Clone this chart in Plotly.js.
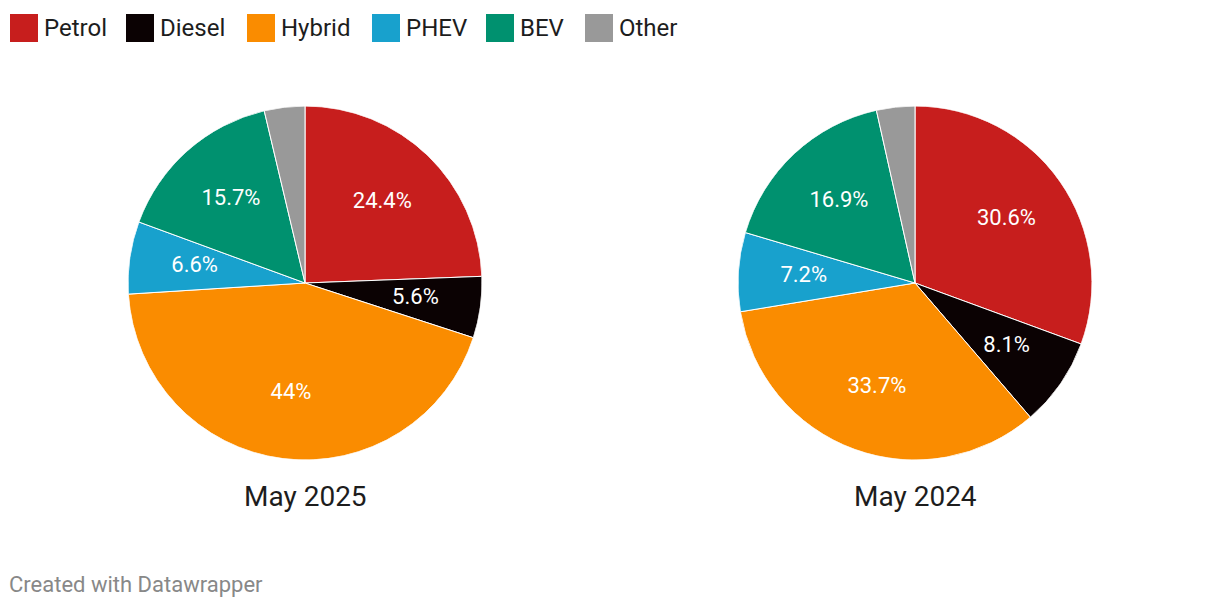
<!DOCTYPE html>
<html>
<head>
<meta charset="utf-8">
<script src="https://cdn.plot.ly/plotly-3.0.1.min.js"></script>
<style>
  html, body { margin: 0; padding: 0; background: #ffffff; }
  #chart { width: 1220px; height: 608px; }
</style>
</head>
<body>
<div id="chart"></div>
<script>
const categories = ["Petrol", "Diesel", "Hybrid", "PHEV", "BEV", "Other"];
const colors = ["#c71e1d", "#0b0203", "#fa8c00", "#18a1cd", "#00916f", "#999999"];
const panelTitles = ["May 2025", "May 2024"];
const valuesMay2025 = [24.4, 5.6, 44.0, 6.6, 15.7, 3.7];
const valuesMay2024 = [30.6, 8.1, 33.7, 7.2, 16.9, 3.5];
const labelsMay2025 = ["24.4%", "5.6%", "44%", "6.6%", "15.7%", ""];
const labelsMay2024 = ["30.6%", "8.1%", "33.7%", "7.2%", "16.9%", ""];

const W = 1220, H = 608;
const R = 177, CY = 283;
const centersX = [305, 915];
const LABEL_R = 0.63;

function domainFor(cx) {
  return {
    x: [(cx - R) / W, (cx + R) / W],
    y: [1 - (CY + R) / H, 1 - (CY - R) / H]
  };
}

function angles(values) {
  const total = values.reduce((a, b) => a + b, 0);
  let cum = 0;
  const mid = [], width = [];
  values.forEach(v => {
    mid.push((cum + v / 2) / total * 360);
    width.push(v / total * 360);
    cum += v;
  });
  return { mid, width };
}

function sliceTrace(values, polarId) {
  const a = angles(values);
  return {
    type: "barpolar",
    subplot: polarId,
    r: values.map(() => 1),
    theta: a.mid,
    width: a.width,
    customdata: values,
    text: categories,
    hovertemplate: "%{text}: %{customdata}%<extra></extra>",
    marker: { color: colors, line: { color: "#ffffff", width: 1 } },
    showlegend: false
  };
}

function labelTrace(values, texts, polarId) {
  const a = angles(values);
  return {
    type: "scatterpolar",
    subplot: polarId,
    mode: "text",
    r: values.map(() => LABEL_R),
    theta: a.mid,
    text: texts,
    textposition: "middle center",
    textfont: { family: "Roboto, sans-serif", size: 22, color: "#ffffff" },
    hoverinfo: "skip",
    showlegend: false
  };
}

const data = [
  sliceTrace(valuesMay2025, "polar"),
  sliceTrace(valuesMay2024, "polar2"),
  labelTrace(valuesMay2025, labelsMay2025, "polar"),
  labelTrace(valuesMay2024, labelsMay2024, "polar2")
];

function polarLayout(cx) {
  return {
    domain: domainFor(cx),
    bgcolor: "rgba(0,0,0,0)",
    radialaxis: { range: [0, 1], visible: false, showgrid: false, showline: false, showticklabels: false },
    angularaxis: { direction: "clockwise", rotation: 90, visible: false, showgrid: false, showline: false, showticklabels: false },
    hole: 0
  };
}

const shapes = [];
const annotations = [];
const legendX = [10, 126, 247, 372, 486, 585];
categories.forEach((c, i) => {
  shapes.push({
    type: "rect", xref: "paper", yref: "paper",
    x0: legendX[i] / W, x1: (legendX[i] + 28) / W,
    y0: 1 - 42 / H, y1: 1 - 14 / H,
    fillcolor: colors[i], line: { width: 0 }
  });
  annotations.push({
    text: c, xref: "paper", yref: "paper",
    x: (legendX[i] + 32) / W, y: 1 - 28 / H,
    xanchor: "left", yanchor: "middle", showarrow: false,
    font: { family: "Roboto, sans-serif", size: 24, color: "#1d1d1d" }
  });
});
panelTitles.forEach((t, i) => {
  annotations.push({
    text: t, xref: "paper", yref: "paper",
    x: centersX[i] / W, y: 1 - 496 / H,
    xanchor: "center", yanchor: "middle", showarrow: false,
    font: { family: "Roboto, sans-serif", size: 28, color: "#1d1d1d" }
  });
});
annotations.push({
  text: "Created with Datawrapper", xref: "paper", yref: "paper",
  x: 7 / W, y: 1 - 584 / H, xanchor: "left", yanchor: "middle", showarrow: false,
  font: { family: "Roboto, sans-serif", size: 22, color: "#888888" }
});

const layout = {
  width: W, height: H,
  margin: { l: 0, r: 0, t: 0, b: 0 },
  paper_bgcolor: "#ffffff",
  showlegend: false,
  polar: polarLayout(centersX[0]),
  polar2: polarLayout(centersX[1]),
  shapes: shapes,
  annotations: annotations
};

Plotly.newPlot("chart", data, layout, { displayModeBar: false, staticPlot: true });
</script>
</body>
</html>
